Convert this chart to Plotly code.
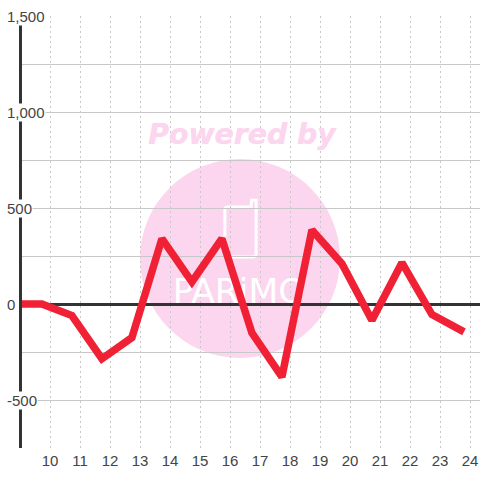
import plotly.graph_objects as go

hours = [10, 11, 12, 13, 14, 15, 16, 17, 18, 19, 20, 21, 22, 23, 24]
line_x = [8.9, 9.73, 10.73, 11.73, 12.73, 13.73, 14.73, 15.73, 16.73, 17.73, 18.73, 19.73, 20.73, 21.73, 22.73, 23.8]
line_y = [0, 0, -60, -285, -175, 340, 115, 340, -150, -380, 385, 210, -85, 215, -55, -145]
y_grid = [-750, -500, -250, 0, 250, 500, 750, 1000, 1250, 1500]
y_labels = {1500: "1,500", 1000: "1,000", 500: "500", 0: "0", -500: "-500"}

fig = go.Figure()
# watermark text below the line
fig.add_trace(go.Scatter(x=[16.4], y=[870], mode="text", text=["Powered by"],
                         textfont=dict(family="DejaVu Sans", size=28.3, color="#fbd6ee",
                                       weight="bold", style="italic", shadow="0 0 1px #fbd6ee"),
                         hoverinfo="skip", showlegend=False))
fig.add_trace(go.Scatter(x=[16.3], y=[50], mode="text", text=["PARiMO"],
                         textfont=dict(family="DejaVu Sans", size=34.5, color="#ffffff"),
                         hoverinfo="skip", showlegend=False))
fig.add_trace(go.Scatter(x=line_x, y=line_y, mode="lines", cliponaxis=False,
                         line=dict(color="#f02035", width=7.5, shape="linear"),
                         hoverinfo="skip", showlegend=False))

# watermark disc and phone glyph
fig.add_shape(type="circle", xref="x", yref="y", x0=13.0, x1=19.667, y0=-281, y1=755,
              fillcolor="#fbd6ee", line_width=0, layer="below")
fig.add_shape(type="path", xref="x", yref="y",
              path="M 15.83 265 L 15.83 490 Q 15.83 505 15.93 505 L 16.7 505 L 16.72 540 L 16.87 540 L 16.87 260 Q 16.87 245 16.77 245 L 15.93 245 Q 15.83 245 15.83 265 Z",
              fillcolor="rgba(0,0,0,0)", line=dict(color="#ffffff", width=3), layer="below")

for val, txt in y_labels.items():
    fig.add_annotation(xref="paper", x=-0.0349, xanchor="left", yref="y", y=val, yanchor="middle",
                       text=txt, showarrow=False, bgcolor="#ffffff" if val else "rgba(0,0,0,0)",
                       font=dict(family="Liberation Sans", size=15, color="#444444"),
                       borderpad=0)

fig.update_xaxes(range=[9.0667, 24.333], tickmode="array", tickvals=hours, ticktext=[str(h) for h in hours],
                 showgrid=True, gridcolor="#c8c8c8", griddash="2px,3px", gridwidth=1,
                 zeroline=False, showline=False, ticks="", ticklabelstandoff=2,
                 tickfont=dict(family="Liberation Sans", size=15, color="#444444"))
fig.update_yaxes(range=[-750, 1500], tickmode="array", tickvals=y_grid, showticklabels=False,
                 showgrid=True, gridcolor="#c8c8c8", gridwidth=1,
                 zeroline=True, zerolinecolor="#333333", zerolinewidth=3,
                 showline=True, linecolor="#333333", linewidth=3, ticks="")
fig.update_layout(width=480, height=480, autosize=False,
                  margin=dict(l=22, r=0, t=16, b=32, pad=0),
                  paper_bgcolor="#ffffff", plot_bgcolor="#ffffff", showlegend=False)
fig.write_html("out.html", config={"displayModeBar": False},
               post_script="document.body.style.margin='0';")
